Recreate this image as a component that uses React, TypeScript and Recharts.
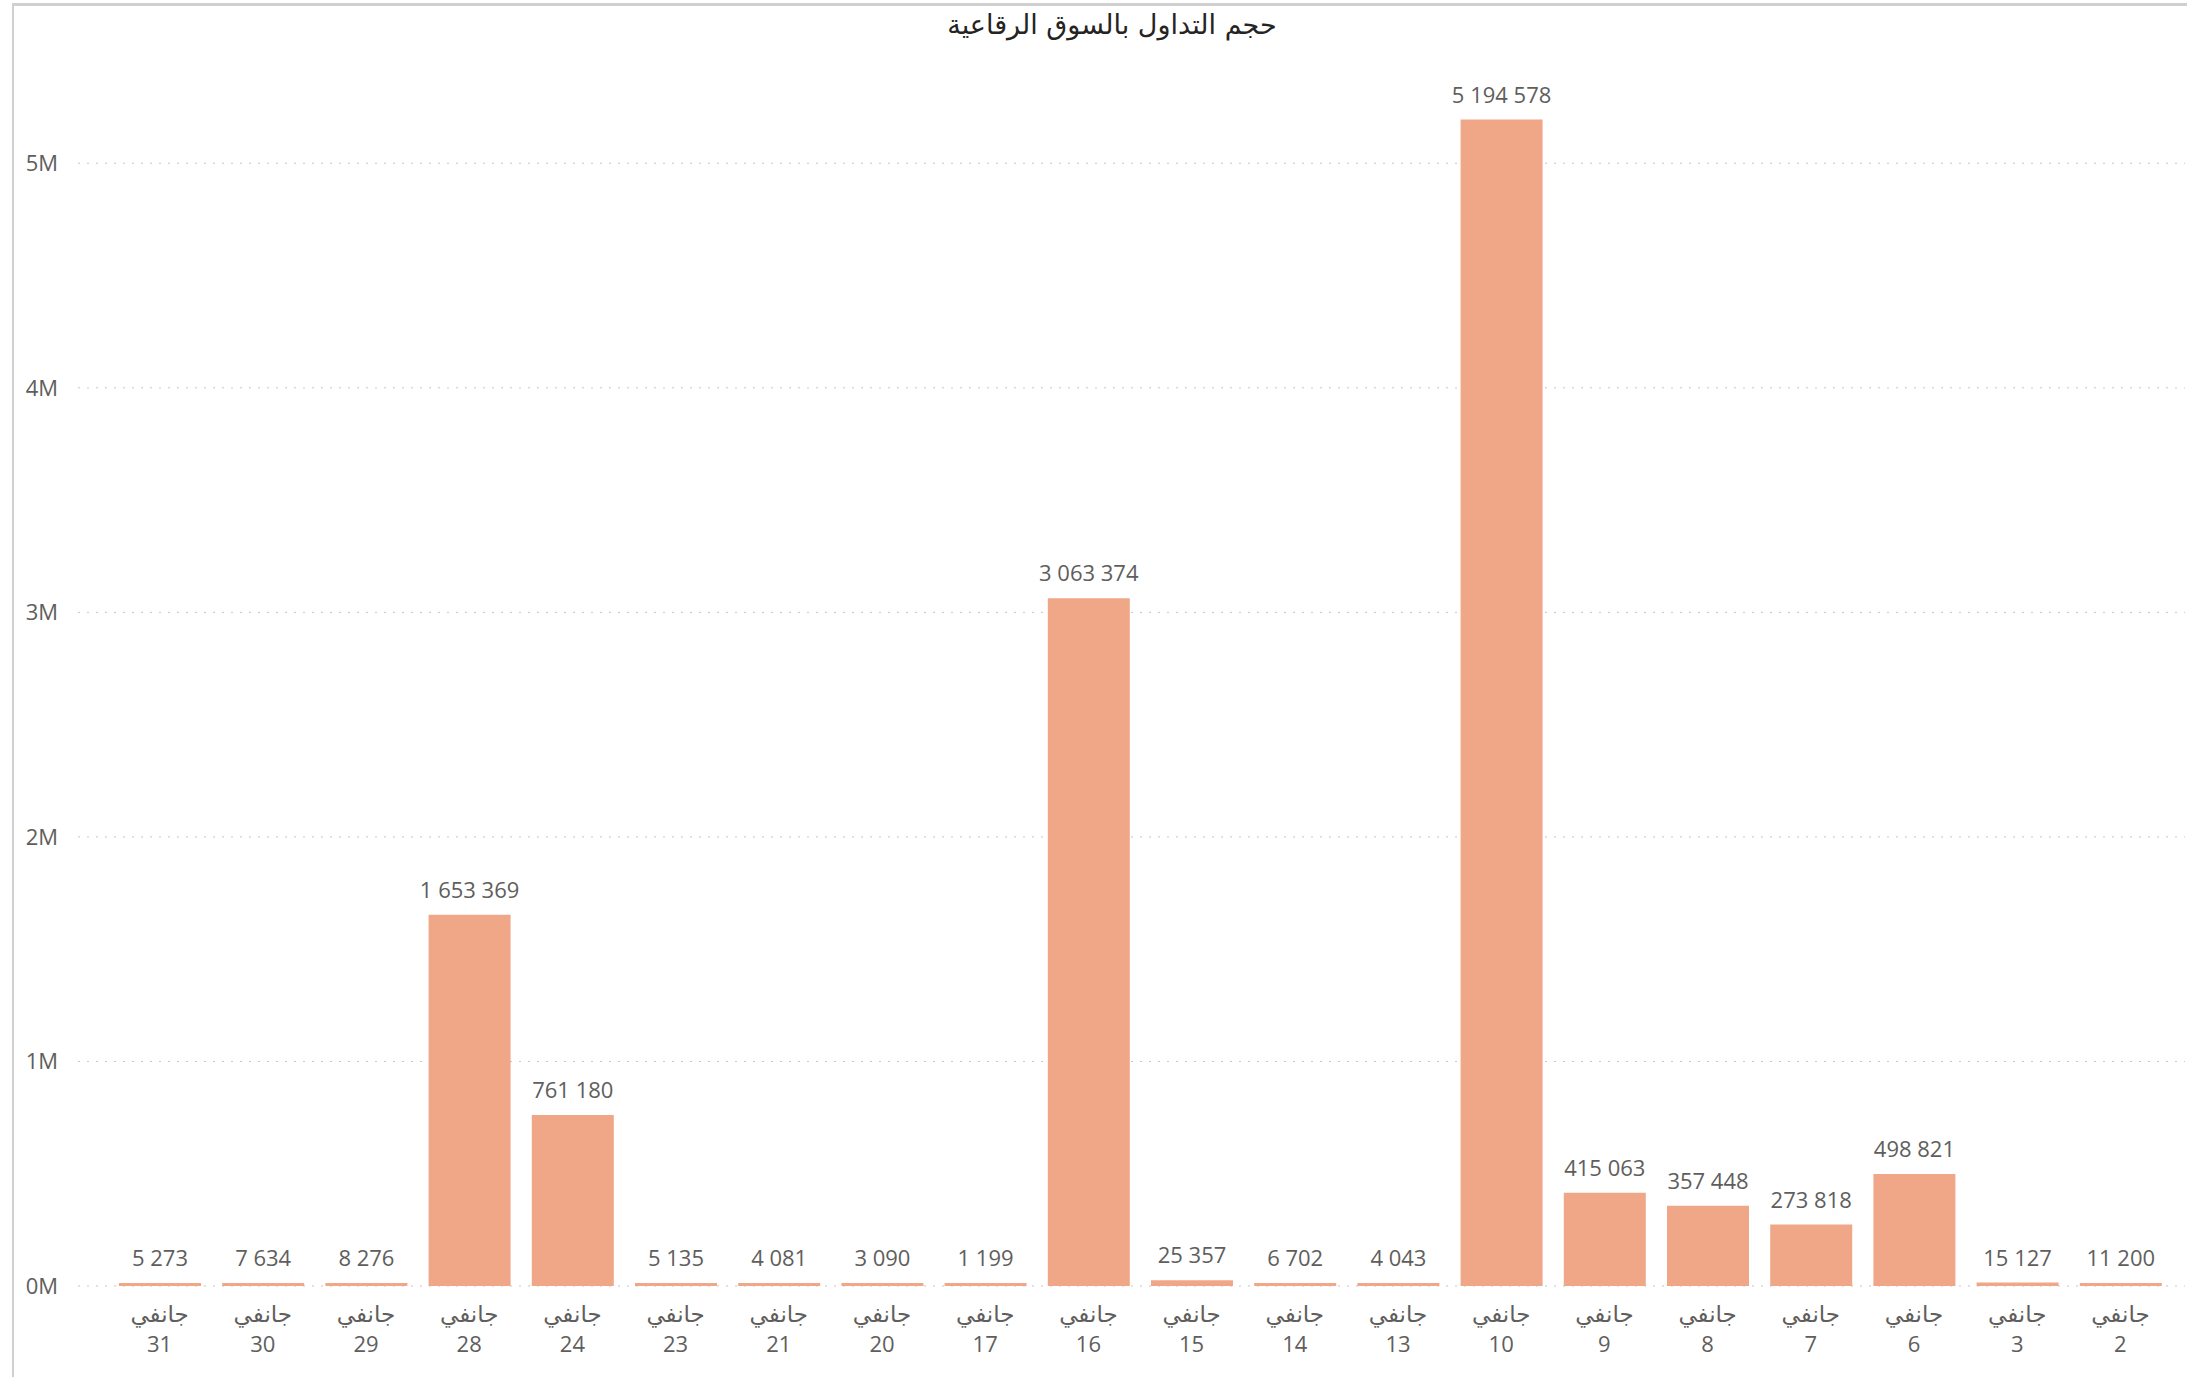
import { BarChart, Bar, XAxis, YAxis, CartesianGrid, LabelList } from "recharts";

const days = ["31", "30", "29", "28", "24", "23", "21", "20", "17", "16", "15", "14", "13", "10", "9", "8", "7", "6", "3", "2"];
const monthName = "جانفي";
const volumes = [5273, 7634, 8276, 1653369, 761180, 5135, 4081, 3090, 1199, 3063374, 25357, 6702, 4043, 5194578, 415063, 357448, 273818, 498821, 15127, 11200];
const yTicks = [0, 1000000, 2000000, 3000000, 4000000, 5000000];
const title = "حجم التداول بالسوق الرقاعية";

const data = days.map((d, i) => ({ day: d, volume: volumes[i] }));

const FONT = '"Open Sans", "DejaVu Sans", sans-serif';
const GREY = "#605E5C";

const fmtSpace = (v: any) => String(v).replace(/\B(?=(\d{3})+(?!\d))/g, " ");

function DayTick(props: any) {
    const { x, y, payload } = props;
    return (
        <g>
            <text x={x} y={y + 27} textAnchor="middle" dominantBaseline="central" fill={GREY} fontSize={23} fontFamily={FONT}>
                {monthName}
            </text>
            <text x={x} y={y + 57} textAnchor="middle" dominantBaseline="central" fill={GREY} fontSize={22} fontFamily={FONT}>
                {payload.value}
            </text>
        </g>
    );
}

export default function App() {
    return (
        <div style={{ position: "absolute", left: 0, top: 0, width: 2187, height: 1377, background: "#fff", fontFamily: FONT }}>
            <div
                style={{
                    position: "absolute",
                    left: 12,
                    top: 3,
                    right: 0,
                    bottom: 0,
                    borderLeft: "2px solid #D0D0D0",
                    borderTop: "3px solid #D0D0D0",
                }}
            />
            <div
                style={{
                    position: "absolute",
                    left: 0,
                    width: 2224,
                    top: 9,
                    textAlign: "center",
                    fontSize: 27,
                    color: "#252423",
                    fontFamily: '"DejaVu Sans", Arial, sans-serif',
                    direction: "rtl",
                }}
            >
                {title}
            </div>
            <BarChart width={2187} height={1377} data={data} margin={{ top: 51, right: 2, bottom: 0, left: 0 }} barSize={82}>
                <CartesianGrid vertical={false} stroke="#C8C6C4" strokeDasharray="2 7" horizontalValues={yTicks} />
                <XAxis
                    dataKey="day"
                    height={91}
                    axisLine={false}
                    tickLine={false}
                    tickSize={0}
                    tickMargin={0}
                    interval={0}
                    padding={{ left: 30, right: 13 }}
                    tick={<DayTick />}
                />
                <YAxis
                    width={78}
                    domain={[0, 5500000]}
                    ticks={yTicks}
                    axisLine={false}
                    tickLine={false}
                    tickSize={0}
                    tickMargin={20}
                    tickFormatter={(v) => `${v / 1000000}M`}
                    tick={{ fill: GREY, fontSize: 22, fontFamily: FONT }}
                />
                <Bar dataKey="volume" fill="#F0A787" minPointSize={3} isAnimationActive={false}>
                    <LabelList
                        dataKey="volume"
                        position="top"
                        offset={17}
                        formatter={fmtSpace}
                        style={{ fill: GREY, fontSize: 22, fontFamily: FONT }}
                    />
                </Bar>
            </BarChart>
        </div>
    );
}
